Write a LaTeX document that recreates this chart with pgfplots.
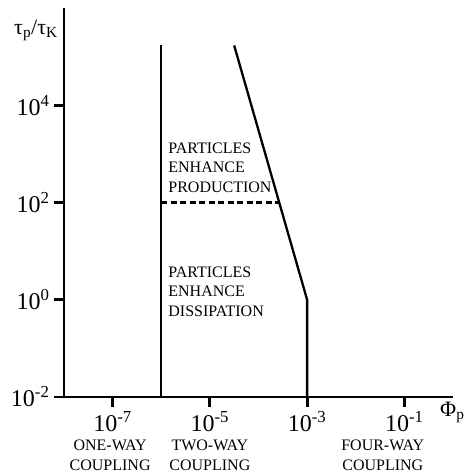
\documentclass[border=0pt]{standalone}
\usepackage{fontspec}
\setmainfont{Liberation Serif}
\usepackage{pgfplots}
\pgfplotsset{compat=1.18}
\begin{document}
\begin{tikzpicture}
\begin{axis}[
  scale only axis, width=389pt, height=389pt,
  xmode=log, ymode=log,
  xmin=1e-8, xmax=1, ymin=1e-2, ymax=1e6,
  axis lines=left,
  axis line style={-, line width=2.8pt, black},
  xtick={1e-7,1e-5,1e-3,1e-1},
  xticklabels={10\textsuperscript{-7},10\textsuperscript{-5},10\textsuperscript{-3},10\textsuperscript{-1}},
  ytick={1e-2,1,1e2,1e4},
  yticklabels={10\textsuperscript{-2},10\textsuperscript{0},10\textsuperscript{2},10\textsuperscript{4}},
  minor xtick={}, minor ytick={},
  tick align=outside, major tick length=10pt,
  tick style={line width=2.8pt, black},
  ticklabel style={font=\fontsize{24}{24}\selectfont},
  xticklabel style={yshift=-1pt},
  yticklabel style={xshift=-1pt},
  clip=false,
]
\addplot[line width=2.3pt] coordinates {(1e-6,1e-2) (1e-6,1.7e5)};
\addplot[line width=2.3pt] coordinates {(3.16e-5,1.7e5) (1e-3,1) (1e-3,1e-2)};
\addplot[line width=2.3pt, dash pattern=on 6pt off 3.5pt] coordinates {(1e-6,1e2) (2.67e-4,1e2)};
\coordinate (O) at (rel axis cs:0,0);
\node[anchor=west, align=left, inner sep=0pt, font=\fontsize{16}{19.5}\selectfont] at (axis cs:1.39e-6,525) {PARTICLES\\ENHANCE\\PRODUCTION};
\node[anchor=west, align=left, inner sep=0pt, font=\fontsize{16}{19.5}\selectfont] at (axis cs:1.39e-6,1.48) {PARTICLES\\ENHANCE\\DISSIPATION};
\node[anchor=north, align=center, inner sep=0pt, font=\fontsize{16}{20}\selectfont] at (axis cs:8.9e-8,1e-2) [yshift=-43pt] {ONE-WAY\\COUPLING};
\node[anchor=north, align=center, inner sep=0pt, font=\fontsize{16}{20}\selectfont] at (axis cs:1e-5,1e-2) [yshift=-43pt] {TWO-WAY\\COUPLING};
\node[anchor=north, align=center, inner sep=0pt, font=\fontsize{16}{20}\selectfont] at (axis cs:3.6e-2,1e-2) [yshift=-43pt] {FOUR-WAY\\COUPLING};
\node[anchor=east, inner sep=0pt, font=\fontsize{22}{22}\selectfont] at (rel axis cs:0,1) [xshift=-6pt, yshift=-22pt] {τ\textsubscript{p}/τ\textsubscript{K}};
\node[anchor=west, inner sep=0pt, font=\fontsize{22}{22}\selectfont] at (rel axis cs:1,0) [xshift=-13pt, yshift=-15pt] {Φ\textsubscript{p}};
\end{axis}
\pgfresetboundingbox
\path (O) ++(-64pt,-78pt) rectangle ++(471pt,475pt);
\end{tikzpicture}
\end{document}
